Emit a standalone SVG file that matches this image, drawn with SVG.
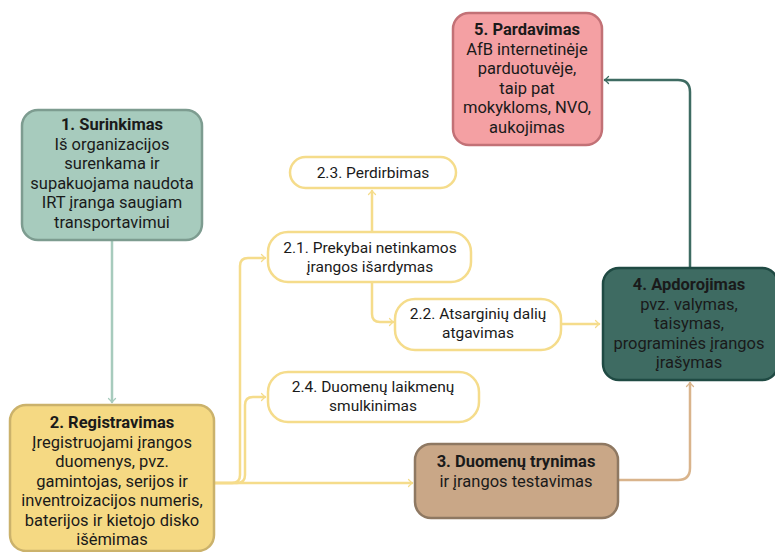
<svg xmlns="http://www.w3.org/2000/svg" width="775" height="552" viewBox="0 0 775 552">
<style>
text{font-family:Roboto,"Liberation Sans",sans-serif;fill:#1a1a1a;text-anchor:middle;font-size:16.5px}
.b{font-weight:bold}
.s{font-size:15.5px}
.c{fill:none;stroke-width:2.5;stroke-linecap:round;stroke-linejoin:round}
.y{stroke:#f5dc8b}
.br{fill:#fff;stroke:#f5dc8b;stroke-width:2.5}
</style>
<defs>
<marker id="ay" viewBox="0 0 10 10" refX="8" refY="5" markerWidth="7" markerHeight="7" orient="auto" markerUnits="userSpaceOnUse" overflow="visible"><path d="M3,0 L8,5 L3,10" fill="none" stroke="#f5dc8b" stroke-width="1.8" stroke-linecap="round" stroke-linejoin="round"/></marker>
<marker id="ag" viewBox="0 0 10 10" refX="8" refY="5" markerWidth="7" markerHeight="7" orient="auto" markerUnits="userSpaceOnUse" overflow="visible"><path d="M3,0 L8,5 L3,10" fill="none" stroke="#a7cbbd" stroke-width="1.8" stroke-linecap="round" stroke-linejoin="round"/></marker>
<marker id="at" viewBox="0 0 10 10" refX="8" refY="5" markerWidth="7" markerHeight="7" orient="auto" markerUnits="userSpaceOnUse" overflow="visible"><path d="M3,0 L8,5 L3,10" fill="none" stroke="#d9b48c" stroke-width="1.8" stroke-linecap="round" stroke-linejoin="round"/></marker>
<marker id="ad" viewBox="0 0 10 10" refX="8" refY="5" markerWidth="7" markerHeight="7" orient="auto" markerUnits="userSpaceOnUse" overflow="visible"><path d="M3,0 L8,5 L3,10" fill="none" stroke="#3e6b62" stroke-width="1.8" stroke-linecap="round" stroke-linejoin="round"/></marker>
</defs>
<rect width="775" height="552" fill="#fff"/>
<g id="connectors">
<path class="c" stroke="#a7cbbd" d="M112,240 V402" marker-end="url(#ag)"/>
<path class="c y" d="M214,483 H412" marker-end="url(#ay)"/>
<path class="c y" d="M214,483 H232 Q240,483 240,475 V266 Q240,258 248,258 H265" marker-end="url(#ay)"/>
<path class="c y" d="M214,483 H237 Q245,483 245,475 V405 Q245,397 253,397 H265" marker-end="url(#ay)"/>
<path class="c y" d="M372,232 V191" marker-end="url(#ay)"/>
<path class="c y" d="M372,282 V314 Q372,322 380,322 H393" marker-end="url(#ay)"/>
<path class="c y" d="M561,324 H599" marker-end="url(#ay)"/>
<path class="c" stroke="#d9b48c" d="M618,480 H678 Q690,480 690,468 V383" marker-end="url(#at)"/>
<path class="c" stroke="#3e6b62" d="M690,268 V92 Q690,80 678,80 H605" marker-end="url(#ad)"/>
</g>
<g id="n1">
<rect x="22" y="110" width="180" height="130" rx="16" fill="#a7cbbd" stroke="#7d9c90" stroke-width="2.5"/>
<text x="112" y="130" class="b">1. Surinkimas</text>
<text x="112" y="149.5">Iš organizacijos</text>
<text x="112" y="169">surenkama ir</text>
<text x="112" y="188.5">supakuojama naudota</text>
<text x="112" y="208">IRT įranga saugiam</text>
<text x="112" y="227.5">transportavimui</text>
</g>
<g id="n2">
<rect x="10" y="405" width="204" height="146" rx="16" fill="#f5d983" stroke="#cbb26b" stroke-width="2.5"/>
<text x="112" y="428" class="b">2. Registravimas</text>
<text x="112" y="447.5">Įregistruojami įrangos</text>
<text x="112" y="467">duomenys, pvz.</text>
<text x="112" y="486.5">gamintojas, serijos ir</text>
<text x="112" y="506">inventroizacijos numeris,</text>
<text x="112" y="525.5">baterijos ir kietojo disko</text>
<text x="112" y="545">išėmimas</text>
</g>
<g id="n23">
<rect x="290" y="157" width="166" height="31" rx="15.5" class="br"/>
<text x="373" y="178" class="s">2.3. Perdirbimas</text>
</g>
<g id="n21">
<rect x="268" y="232" width="203" height="50" rx="20" class="br"/>
<text x="370" y="253" class="s">2.1. Prekybai netinkamos</text>
<text x="370" y="272" class="s">įrangos išardymas</text>
</g>
<g id="n22">
<rect x="395" y="299" width="166" height="51" rx="20" class="br"/>
<text x="478" y="319" class="s">2.2. Atsarginių dalių</text>
<text x="478" y="338" class="s">atgavimas</text>
</g>
<g id="n24">
<rect x="268" y="372" width="211" height="50" rx="20" class="br"/>
<text x="373" y="392" class="s">2.4. Duomenų laikmenų</text>
<text x="373" y="411" class="s">smulkinimas</text>
</g>
<g id="n3">
<rect x="415" y="444" width="203" height="74" rx="16" fill="#c9a787" stroke="#8e7862" stroke-width="2.5"/>
<text x="516" y="467" class="b">3. Duomenų trynimas</text>
<text x="516" y="486.5">ir įrangos testavimas</text>
</g>
<g id="n4">
<rect x="603" y="268" width="175" height="112" rx="16" fill="#3e6b62" stroke="#1f4a43" stroke-width="2.5"/>
<text x="689" y="290" class="b">4. Apdorojimas</text>
<text x="689" y="309.5">pvz. valymas,</text>
<text x="689" y="329">taisymas,</text>
<text x="689" y="348.5">programinės įrangos</text>
<text x="689" y="368">įrašymas</text>
</g>
<g id="n5">
<rect x="453" y="13" width="149" height="132" rx="16" fill="#f4a0a3" stroke="#c27176" stroke-width="2.5"/>
<text x="527" y="35" class="b">5. Pardavimas</text>
<text x="527" y="54.5">AfB internetinėje</text>
<text x="527" y="74">parduotuvėje,</text>
<text x="527" y="93.5">taip pat</text>
<text x="527" y="113">mokykloms, NVO,</text>
<text x="527" y="132.5">aukojimas</text>
</g>
</svg>
